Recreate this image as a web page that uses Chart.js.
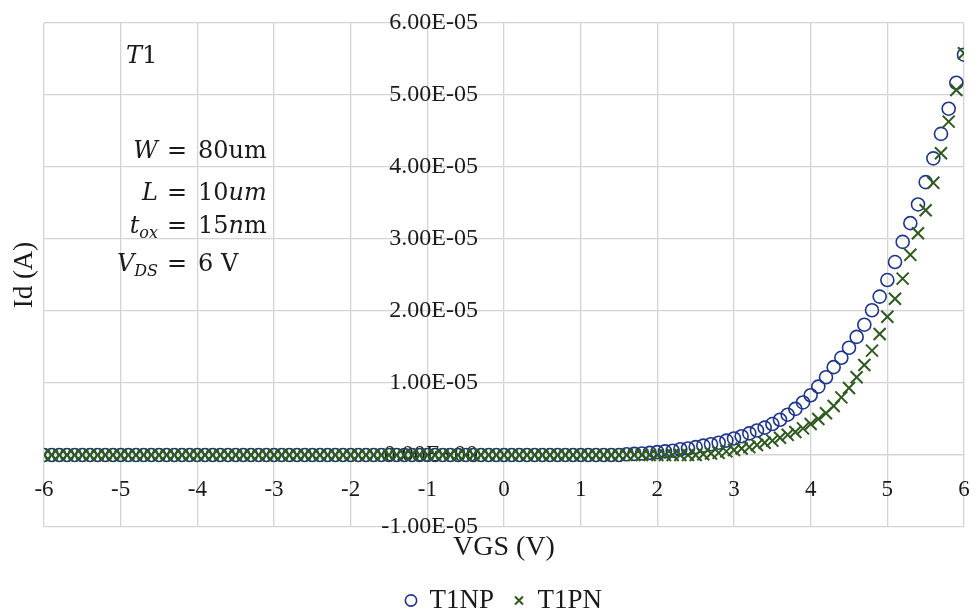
<!DOCTYPE html>
<html>
<head>
<meta charset="utf-8">
<script src="https://cdn.jsdelivr.net/npm/chart.js@4.4.1/dist/chart.umd.min.js"></script>
<style>
  html, body { margin: 0; padding: 0; background: #fff; }
  canvas { display: block; }
</style>
</head>
<body>
<canvas id="idvgs-chart" width="979" height="613"></canvas>
<script>
// VGS sweep (V)
const vgs = [
  -6, -5.9, -5.8, -5.7, -5.6, -5.5, -5.4, -5.3, -5.2, -5.1,
  -5, -4.9, -4.8, -4.7, -4.6, -4.5, -4.4, -4.3, -4.2, -4.1,
  -4, -3.9, -3.8, -3.7, -3.6, -3.5, -3.4, -3.3, -3.2, -3.1,
  -3, -2.9, -2.8, -2.7, -2.6, -2.5, -2.4, -2.3, -2.2, -2.1,
  -2, -1.9, -1.8, -1.7, -1.6, -1.5, -1.4, -1.3, -1.2, -1.1,
  -1, -0.9, -0.8, -0.7, -0.6, -0.5, -0.4, -0.3, -0.2, -0.1,
  0, 0.1, 0.2, 0.3, 0.4, 0.5, 0.6, 0.7, 0.8, 0.9,
  1, 1.1, 1.2, 1.3, 1.4, 1.5, 1.6, 1.7, 1.8, 1.9,
  2, 2.1, 2.2, 2.3, 2.4, 2.5, 2.6, 2.7, 2.8, 2.9,
  3, 3.1, 3.2, 3.3, 3.4, 3.5, 3.6, 3.7, 3.8, 3.9,
  4, 4.1, 4.2, 4.3, 4.4, 4.5, 4.6, 4.7, 4.8, 4.9,
  5, 5.1, 5.2, 5.3, 5.4, 5.5, 5.6, 5.7, 5.8, 5.9,
  6
];

// Id (A)
const idT1NP = [
  0, 0, 0, 0, 0, 0, 0, 0, 0, 0,
  0, 0, 0, 0, 0, 0, 0, 0, 0, 0,
  0, 0, 0, 0, 0, 0, 0, 0, 0, 0,
  0, 0, 0, 0, 0, 0, 0, 0, 0, 0,
  0, 0, 0, 0, 0, 0, 0, 0, 0, 0,
  0, 0, 0, 0, 0, 0, 0, 0, 0, 0,
  0, 0, 0, 0, 0, 0, 0, 0, 0, 0,
  0, 0, 0, 0, 0, 0, 0.01e-5, 0.015e-5, 0.02e-5, 0.03e-5,
  0.04e-5, 0.05e-5, 0.06e-5, 0.08e-5, 0.09e-5, 0.11e-5, 0.13e-5, 0.15e-5, 0.17e-5, 0.2e-5,
  0.23e-5, 0.26e-5, 0.3e-5, 0.34e-5, 0.38e-5, 0.43e-5, 0.49e-5, 0.56e-5, 0.64e-5, 0.73e-5,
  0.83e-5, 0.95e-5, 1.08e-5, 1.22e-5, 1.35e-5, 1.49e-5, 1.64e-5, 1.81e-5, 2.01e-5, 2.2e-5,
  2.43e-5, 2.68e-5, 2.96e-5, 3.22e-5, 3.48e-5, 3.79e-5, 4.12e-5, 4.46e-5, 4.81e-5, 5.17e-5,
  5.56e-5
];

const idT1PN = [
  0, 0, 0, 0, 0, 0, 0, 0, 0, 0,
  0, 0, 0, 0, 0, 0, 0, 0, 0, 0,
  0, 0, 0, 0, 0, 0, 0, 0, 0, 0,
  0, 0, 0, 0, 0, 0, 0, 0, 0, 0,
  0, 0, 0, 0, 0, 0, 0, 0, 0, 0,
  0, 0, 0, 0, 0, 0, 0, 0, 0, 0,
  0, 0, 0, 0, 0, 0, 0, 0, 0, 0,
  0, 0, 0, 0, 0, 0, 0, 0, 0, 0,
  0, 0, 0, 0, 0, 0, 0.01e-5, 0.02e-5, 0.03e-5, 0.05e-5,
  0.07e-5, 0.09e-5, 0.11e-5, 0.14e-5, 0.17e-5, 0.2e-5, 0.24e-5, 0.28e-5, 0.32e-5, 0.37e-5,
  0.43e-5, 0.5e-5, 0.58e-5, 0.68e-5, 0.8e-5, 0.93e-5, 1.08e-5, 1.25e-5, 1.45e-5, 1.68e-5,
  1.92e-5, 2.17e-5, 2.45e-5, 2.78e-5, 3.08e-5, 3.4e-5, 3.78e-5, 4.19e-5, 4.63e-5, 5.07e-5,
  5.58e-5
];

const xTickLabels = ['-6', '-5', '-4', '-3', '-2', '-1', '0', '1', '2', '3', '4', '5', '6'];
const yTickLabels = ['-1.00E-05', '0.00E+00', '1.00E-05', '2.00E-05', '3.00E-05', '4.00E-05', '5.00E-05', '6.00E-05'];

const textColor = '#1a1a1a';
const gridColor = '#d4d4d4';
const serif = 'Liberation Serif';

// device parameters written in the top-left corner
const paramFont = {
  n: '24px "DejaVu Serif"',
  i: 'italic 24px "DejaVu Serif"',
  sub: 'italic 16px "DejaVu Serif"'
};
const paramLines = [
  { base: 158, lhs: [['W', 'i']], rhs: [['80um', 'n']] },
  { base: 200, lhs: [['L', 'i']], rhs: [['10', 'n'], ['um', 'i']] },
  { base: 233, lhs: [['t', 'i'], ['ox', 'sub']], rhs: [['15', 'n'], ['n', 'i'], ['m', 'n']] },
  { base: 271, lhs: [['V', 'i'], ['DS', 'sub']], rhs: [['6 V', 'n']] }
];

function segWidth(ctx, segs) {
  let w = 0;
  segs.forEach(([t, f]) => { ctx.font = paramFont[f]; w += ctx.measureText(t).width; });
  return w;
}
function drawSegs(ctx, segs, x, base) {
  segs.forEach(([t, f]) => {
    ctx.font = paramFont[f];
    ctx.fillText(t, x, f === 'sub' ? base + 5 : base);
    x += ctx.measureText(t).width;
  });
}

const labelsPlugin = {
  id: 'labelsPlugin',
  afterDraw(chart) {
    const ctx = chart.ctx;
    const xs = chart.scales.x;
    const ys = chart.scales.y;
    ctx.save();
    ctx.fillStyle = textColor;

    // x tick labels, a bit below the Id = 0 line like Excel draws them
    ctx.font = '23px "' + serif + '"';
    ctx.textAlign = 'center';
    ctx.textBaseline = 'middle';
    const labelY = ys.getPixelForValue(0) + 35;
    xs.ticks.forEach((t, i) => {
      ctx.fillText(xTickLabels[i], xs.getPixelForValue(t.value), labelY);
    });

    ctx.textBaseline = 'alphabetic';
    ctx.textAlign = 'left';
    drawSegs(ctx, [['T', 'i'], ['1', 'n']], 126, 63);
    paramLines.forEach(line => {
      drawSegs(ctx, line.lhs, 158 - segWidth(ctx, line.lhs), line.base);
      ctx.font = paramFont.n;
      ctx.fillText('=', 167, line.base);
      drawSegs(ctx, line.rhs, 198, line.base);
    });

    // y axis title
    ctx.translate(25, 275);
    ctx.rotate(-Math.PI / 2);
    ctx.textAlign = 'center';
    ctx.textBaseline = 'middle';
    ctx.font = '27px "' + serif + '"';
    ctx.fillText('Id (A)', 0, 0);
    ctx.restore();
  }
};

const chart = new Chart(document.getElementById('idvgs-chart'), {
  type: 'scatter',
  data: {
    datasets: [{
      label: 'T1NP',
      data: vgs.map((v, i) => ({ x: v, y: idT1NP[i] })),
      order: 1,
      pointStyle: 'circle',
      pointRadius: 6.5,
      pointBorderWidth: 1.6,
      borderWidth: 1.6,
      pointBorderColor: '#1d358a',
      borderColor: '#1d358a',
      pointBackgroundColor: 'rgba(0,0,0,0)',
      backgroundColor: 'rgba(0,0,0,0)'
    }, {
      label: 'T1PN',
      data: vgs.map((v, i) => ({ x: v, y: idT1PN[i] })),
      order: 0,
      pointStyle: 'crossRot',
      pointRadius: 8.5,
      pointBorderWidth: 2,
      borderWidth: 2,
      pointBorderColor: '#2f5a1e',
      borderColor: '#2f5a1e',
      pointBackgroundColor: '#2f5a1e',
      backgroundColor: '#2f5a1e'
    }]
  },
  options: {
    responsive: false,
    animation: false,
    devicePixelRatio: 1,
    layout: { padding: { left: 44, right: 15, top: 23, bottom: -11 } },
    scales: {
      x: {
        type: 'linear',
        position: { y: 0 },
        min: -6,
        max: 6,
        ticks: { stepSize: 1, display: false },
        grid: { color: gridColor, lineWidth: 1.3, drawTicks: false },
        border: { color: gridColor, width: 1.3 }
      },
      y: {
        type: 'linear',
        // labels end a little left of the VGS = 0 line
        position: { x: -0.34 },
        min: -1e-5,
        max: 6e-5,
        ticks: {
          stepSize: 1e-5,
          padding: 0,
          autoSkip: false,
          color: textColor,
          font: { family: serif, size: 24 },
          callback: (value, index) => yTickLabels[index]
        },
        grid: { color: gridColor, lineWidth: 1.3, drawTicks: false },
        border: { display: false }
      }
    },
    plugins: {
      tooltip: { enabled: false },
      title: {
        display: true,
        text: 'VGS (V)',
        position: 'bottom',
        fullSize: false,
        weight: 500,
        color: textColor,
        font: { family: serif, size: 28, weight: 'normal', lineHeight: 1.2 },
        padding: { top: 4, bottom: 2.4 }
      },
      legend: {
        position: 'bottom',
        weight: 1000,
        labels: {
          usePointStyle: true,
          boxWidth: 10,
          boxHeight: 8,
          padding: 20,
          color: textColor,
          font: { family: serif, size: 27 },
          sort: (a, b) => a.datasetIndex - b.datasetIndex
        }
      }
    }
  },
  plugins: [labelsPlugin]
});
</script>
</body>
</html>
